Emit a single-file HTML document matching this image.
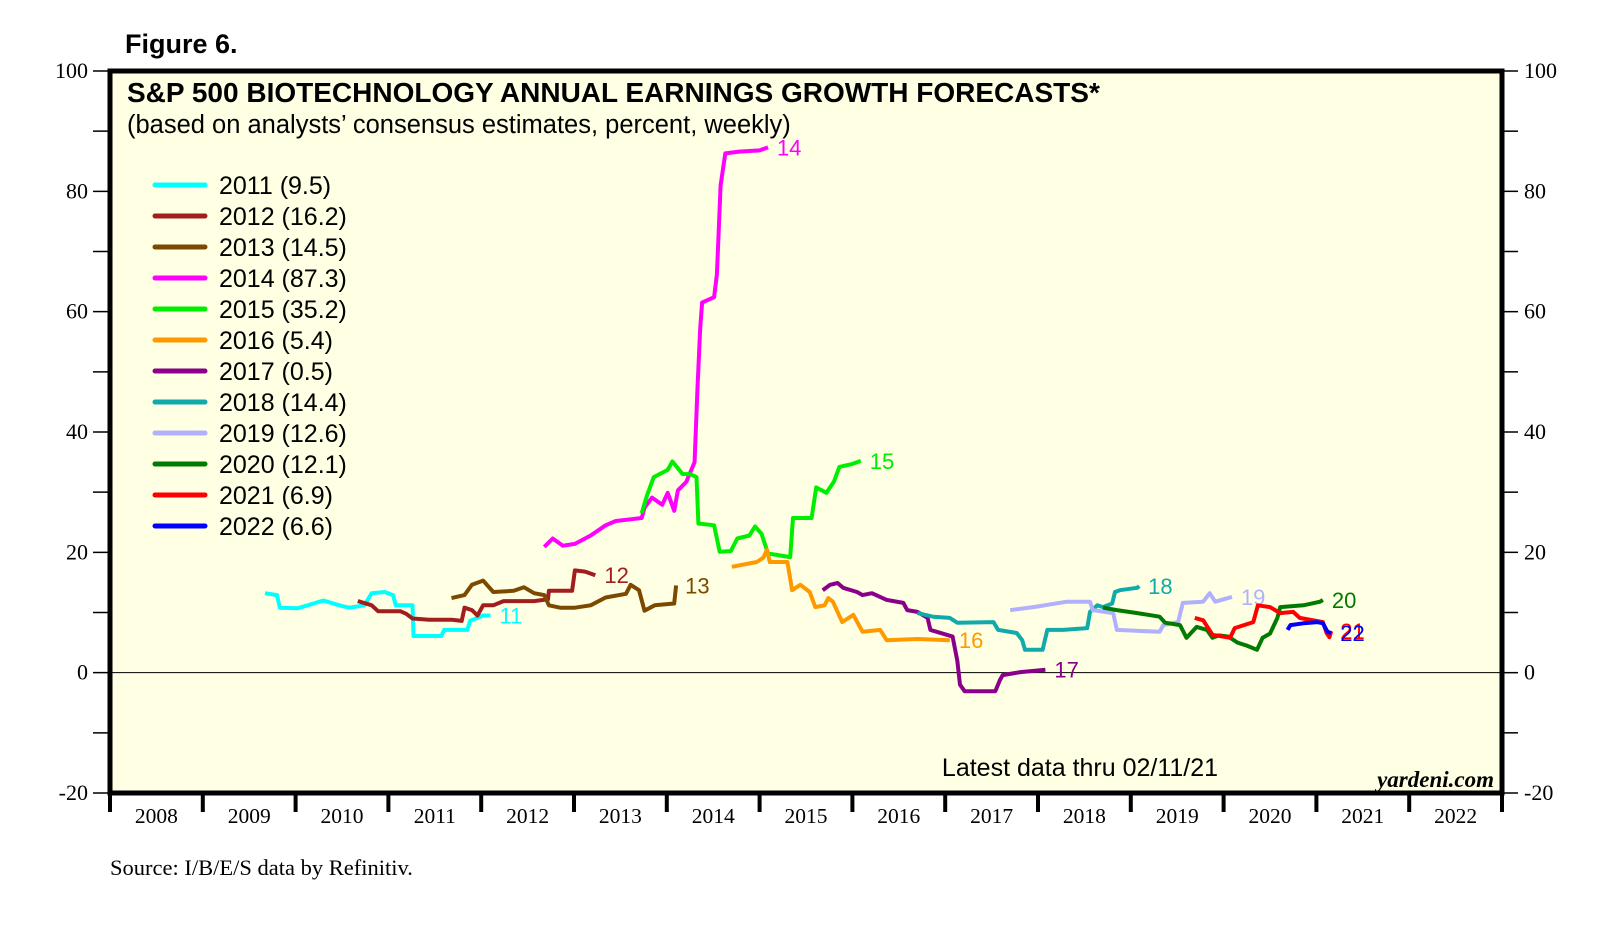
<!DOCTYPE html>
<html><head><meta charset="utf-8">
<style>
body{margin:0;background:#fff;}
svg{display:block;}
</style></head>
<body>
<svg id="chart" width="1610" height="951" viewBox="0 0 1610 951" xmlns="http://www.w3.org/2000/svg">
<rect x="0" y="0" width="1610" height="951" fill="#fff"/>
<text x="125" y="53" font-family="Liberation Sans, sans-serif" font-size="27" font-weight="bold">Figure 6.</text>
<rect x="110" y="71" width="1392" height="722" fill="#FFFFE3"/>
<g id="grid"></g>
<g id="series"></g>
<rect x="110" y="71" width="1392" height="722" fill="none" stroke="#000" stroke-width="5"/>
<text x="127" y="102" font-family="Liberation Sans, sans-serif" font-size="28" font-weight="bold">S&amp;P 500 BIOTECHNOLOGY ANNUAL EARNINGS GROWTH FORECASTS*</text>
<text x="127" y="133" font-family="Liberation Sans, sans-serif" font-size="25.5">(based on analysts’ consensus estimates, percent, weekly)</text>
<g id="legend"></g>
<text x="1080" y="776" text-anchor="middle" font-family="Liberation Sans, sans-serif" font-size="25">Latest data thru  02/11/21</text>
<text x="1494" y="787" text-anchor="end" font-family="Liberation Serif, serif" font-size="23" font-style="italic" font-weight="bold">yardeni.com</text>
<text x="110" y="875" font-family="Liberation Serif, serif" font-size="22.5">Source: I/B/E/S data by Refinitiv.</text>
</svg>
<script>
const yTicks = [100, 80, 60, 40, 20, 0, -20];
const xYears = [2008,2009,2010,2011,2012,2013,2014,2015,2016,2017,2018,2019,2020,2021,2022];
const seriesNames = ["2011","2012","2013","2014","2015","2016","2017","2018","2019","2020","2021","2022"];
const seriesColors = ["#00FFFF","#A01E1E","#7B4A00","#FF00FF","#00EE00","#FF9900","#8B008B","#10AAAA","#B0B0FF","#007A00","#FF0000","#0000FF"];
const legendValues = ["9.5","16.2","14.5","87.3","35.2","5.4","0.5","14.4","12.6","12.1","6.9","6.6"];
const endLabels = ["11","12","13","14","15","16","17","18","19","20","21","22"];
const s2011 = [[2009.67,13.2],[2009.80,12.9],[2009.83,10.8],[2010.02,10.7],[2010.13,11.2],[2010.30,12.0],[2010.47,11.2],[2010.58,10.8],[2010.74,11.2],[2010.82,13.2],[2010.96,13.4],[2011.05,12.9],[2011.08,11.2],[2011.26,11.2],[2011.27,6.1],[2011.57,6.1],[2011.60,7.1],[2011.85,7.1],[2011.88,8.6],[2012.02,9.5],[2012.10,9.5]];
const s2012 = [[2010.67,11.9],[2010.82,11.2],[2010.89,10.2],[2011.13,10.2],[2011.19,9.8],[2011.26,9.0],[2011.44,8.8],[2011.68,8.8],[2011.79,8.6],[2011.82,10.8],[2011.90,10.4],[2011.96,9.5],[2012.02,11.2],[2012.13,11.2],[2012.24,11.9],[2012.46,11.9],[2012.57,11.9],[2012.72,12.2],[2012.73,13.6],[2012.90,13.6],[2012.98,13.6],[2013.01,17.0],[2013.12,16.8],[2013.23,16.2]];
const s2013 = [[2011.68,12.4],[2011.82,12.9],[2011.90,14.6],[2012.02,15.3],[2012.13,13.4],[2012.35,13.6],[2012.46,14.2],[2012.57,13.2],[2012.68,12.9],[2012.73,11.2],[2012.85,10.8],[2013.01,10.8],[2013.18,11.2],[2013.34,12.5],[2013.56,13.1],[2013.61,14.6],[2013.70,13.7],[2013.76,10.3],[2013.87,11.2],[2014.08,11.5],[2014.10,14.5]];
const s2014 = [[2012.68,20.9],[2012.77,22.3],[2012.88,21.1],[2013.01,21.4],[2013.18,22.8],[2013.34,24.5],[2013.45,25.2],[2013.62,25.5],[2013.73,25.7],[2013.76,27.4],[2013.84,29.1],[2013.95,27.9],[2014.01,29.9],[2014.08,26.9],[2014.12,30.3],[2014.21,31.7],[2014.30,35.0],[2014.33,47.0],[2014.36,57.2],[2014.38,61.5],[2014.51,62.4],[2014.54,66.2],[2014.58,81.0],[2014.63,86.3],[2014.78,86.6],[2015.00,86.8],[2015.09,87.3]];
const s2015 = [[2013.73,26.5],[2013.79,29.6],[2013.86,32.5],[2014.01,33.7],[2014.06,35.1],[2014.17,33.0],[2014.25,33.0],[2014.32,32.5],[2014.34,24.8],[2014.51,24.5],[2014.57,20.1],[2014.69,20.2],[2014.76,22.3],[2014.89,22.8],[2014.95,24.3],[2015.02,23.1],[2015.09,19.8],[2015.33,19.2],[2015.36,25.7],[2015.56,25.7],[2015.61,30.8],[2015.72,29.9],[2015.80,31.7],[2015.86,34.2],[2016.00,34.7],[2016.09,35.2]];
const s2016 = [[2014.70,17.6],[2014.97,18.4],[2015.04,19.1],[2015.08,20.4],[2015.11,18.4],[2015.30,18.4],[2015.35,13.7],[2015.44,14.6],[2015.54,13.4],[2015.60,10.9],[2015.70,11.2],[2015.74,12.4],[2015.79,11.8],[2015.89,8.4],[2016.01,9.6],[2016.11,6.8],[2016.30,7.1],[2016.37,5.4],[2016.70,5.6],[2017.05,5.4]];
const s2017 = [[2015.68,13.7],[2015.76,14.6],[2015.84,14.9],[2015.90,14.1],[2016.05,13.4],[2016.11,12.9],[2016.21,13.2],[2016.37,12.1],[2016.55,11.6],[2016.59,10.4],[2016.70,10.1],[2016.81,9.1],[2016.84,7.1],[2017.08,6.0],[2017.13,2.0],[2017.16,-2.0],[2017.21,-3.1],[2017.54,-3.1],[2017.59,-1.2],[2017.62,-0.4],[2017.81,0.1],[2018.08,0.5]];
const s2018 = [[2016.70,9.9],[2016.87,9.3],[2017.05,9.1],[2017.13,8.3],[2017.52,8.4],[2017.57,7.1],[2017.77,6.6],[2017.83,5.4],[2017.86,3.8],[2018.05,3.8],[2018.10,7.1],[2018.27,7.1],[2018.53,7.4],[2018.56,10.1],[2018.64,11.2],[2018.70,10.9],[2018.80,11.5],[2018.83,13.4],[2018.88,13.7],[2019.07,14.1],[2019.09,14.4]];
const s2019 = [[2017.70,10.4],[2017.95,10.9],[2018.31,11.8],[2018.56,11.8],[2018.59,10.4],[2018.81,9.9],[2018.85,7.1],[2019.31,6.8],[2019.35,7.9],[2019.51,8.4],[2019.56,11.6],[2019.78,11.8],[2019.85,13.2],[2019.91,11.8],[2020.09,12.6]];
const s2020 = [[2018.70,10.8],[2018.85,10.4],[2019.07,9.9],[2019.31,9.3],[2019.37,8.3],[2019.53,7.9],[2019.60,5.8],[2019.71,7.6],[2019.82,7.1],[2019.88,5.8],[2019.95,6.2],[2020.05,6.0],[2020.15,5.0],[2020.25,4.5],[2020.36,3.8],[2020.42,5.8],[2020.50,6.5],[2020.58,9.1],[2020.61,10.9],[2020.86,11.2],[2021.04,11.8],[2021.07,12.1]];
const s2021 = [[2019.69,9.1],[2019.78,8.7],[2019.88,6.3],[2020.07,5.8],[2020.12,7.4],[2020.32,8.4],[2020.37,11.2],[2020.50,10.9],[2020.61,9.9],[2020.75,10.1],[2020.82,9.1],[2021.07,8.4],[2021.11,6.6],[2021.14,5.9],[2021.16,6.9]];
const s2022 = [[2020.69,7.1],[2020.72,7.9],[2020.86,8.2],[2021.01,8.4],[2021.07,8.2],[2021.12,6.8],[2021.16,6.6]];
const seriesData = [s2011,s2012,s2013,s2014,s2015,s2016,s2017,s2018,s2019,s2020,s2021,s2022];

const NS = "http://www.w3.org/2000/svg";
const L = 110, R = 1502, T = 71, B = 793;
const X0 = 2008, X1 = 2023, Y0 = -20, Y1 = 100;
function xScale(v){ return L + (v - X0) / (X1 - X0) * (R - L); }
function yScale(v){ return B - (v - Y0) / (Y1 - Y0) * (B - T); }
function mk(tag, attrs, parent){ const e = document.createElementNS(NS, tag); for (const k in attrs) e.setAttribute(k, attrs[k]); parent.appendChild(e); return e; }

const grid = document.getElementById('grid');
const svg = document.getElementById('chart');
const zl = mk('line', {x1:L, x2:R, y1:yScale(0), y2:yScale(0), stroke:'#000', 'stroke-width':1}, grid);


for (let v = -20; v <= 100; v += 10) {
  const y = yScale(v);
  const t1 = mk('line', {x1:L-17, x2:L, y1:y, y2:y, stroke:'#000', 'stroke-width':1.5}, svg);
  
  
  const t2 = mk('line', {x1:R, x2:R+16, y1:y, y2:y, stroke:'#000', 'stroke-width':1.5}, svg);
  
  
}
yTicks.forEach(v => {
  const y = yScale(v);
  const a = mk('text', {x:L-22, y:y+7, 'text-anchor':'end', 'font-family':'Liberation Serif, serif', 'font-size':22}, svg);
  a.textContent = v;
  
  
  const b = mk('text', {x:R+22, y:y+7, 'text-anchor':'start', 'font-family':'Liberation Serif, serif', 'font-size':22}, svg);
  b.textContent = v;
  
  
});
for (let yr = X0; yr <= X1; yr++) {
  const x = xScale(yr);
  const t = mk('line', {x1:x, x2:x, y1:B, y2:B+19, stroke:'#000', 'stroke-width':4}, svg);
  
  
}
xYears.forEach(yr => {
  const t = mk('text', {x:xScale(yr+0.5), y:B+30, 'text-anchor':'middle', 'font-family':'Liberation Serif, serif', 'font-size':21.5}, svg);
  t.textContent = yr;
  
  
});
const sg = document.getElementById('series');
seriesData.forEach((pts, i) => {
  const d = pts.map((p, j) => (j ? 'L' : 'M') + xScale(p[0]).toFixed(1) + ',' + yScale(p[1]).toFixed(1)).join('');
  const path = mk('path', {d:d, fill:'none', stroke:seriesColors[i], 'stroke-width':4, 'stroke-linejoin':'round'}, sg);
  
  
  const last = pts[pts.length - 1];
  const lbl = mk('text', {x:xScale(last[0]) + 9, y:yScale(last[1]) + 8, fill:seriesColors[i], 'font-family':'Liberation Sans, sans-serif', 'font-size':22}, sg);
  lbl.textContent = endLabels[i];
  
  
});
const lg = document.getElementById('legend');
seriesNames.forEach((n, i) => {
  const y = 185 + i * 31;
  const ln = mk('line', {x1:155, x2:205, y1:y, y2:y, stroke:seriesColors[i], 'stroke-width':5, 'stroke-linecap':'round'}, lg);
  
  
  const tx = mk('text', {x:219, y:y + 9, 'font-family':'Liberation Sans, sans-serif', 'font-size':25}, lg);
  tx.textContent = n + ' (' + legendValues[i] + ')';
  
  
});
</script>
</body></html>
